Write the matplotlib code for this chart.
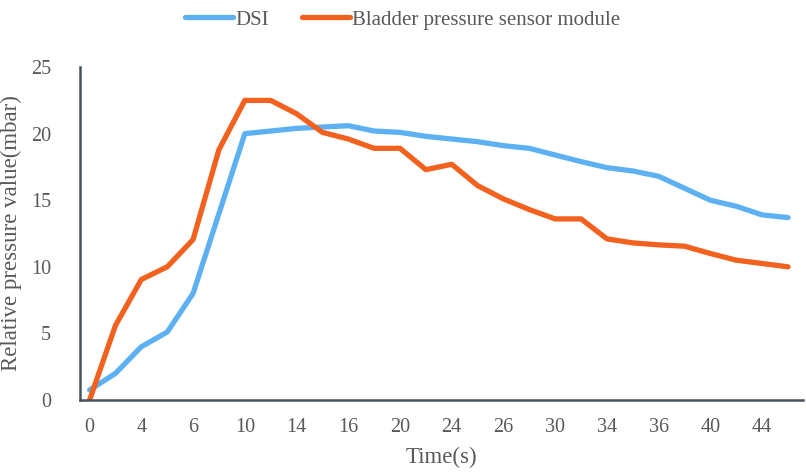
import matplotlib
matplotlib.use("Agg")
import matplotlib.pyplot as plt

time_labels = [0, 2, 4, 5, 6, 8, 10, 12, 14, 15, 16, 18, 20, 22, 24, 25, 26, 28,
               30, 32, 34, 35, 36, 38, 40, 42, 44, 45]
dsi = [0.75, 2.0, 4.0, 5.1, 8.0, 14.0, 20.0, 20.2, 20.4, 20.5, 20.6, 20.2, 20.1,
       19.8, 19.6, 19.4, 19.1, 18.9, 18.4, 17.9, 17.45, 17.2, 16.8, 15.9, 15.0,
       14.55, 13.9, 13.7]
bladder = [0.0, 5.6, 9.05, 10.0, 12.05, 18.8, 22.5, 22.5, 21.5, 20.1, 19.6, 18.9,
           18.9, 17.3, 17.7, 16.1, 15.1, 14.3, 13.6, 13.6, 12.1, 11.8, 11.65, 11.55,
           11.0, 10.5, 10.25, 10.0]

plt.rcParams['font.family'] = ['Liberation Serif', 'DejaVu Serif']
text_color = '#595959'

fig = plt.figure(figsize=(8.06, 4.76), dpi=100)
ax = fig.add_axes([0.0993, 0.1597, 0.897, 0.6993])

idx = list(range(len(time_labels)))
l1, = ax.plot(idx, dsi, color='#5DB1F2', lw=3.8, solid_capstyle='round',
              solid_joinstyle='round', label='DSI')
l2, = ax.plot(idx, bladder, color='#F2621E', lw=3.8, solid_capstyle='round',
              solid_joinstyle='round', label='Bladder pressure sensor module')

ax.set_xlim(-0.37, 27.58)
ax.set_ylim(0, 25)
ax.set_yticks([0, 5, 10, 15, 20, 25])
ax.set_xticks(idx[::2])
ax.set_xticklabels([str(t) for t in time_labels[::2]])
ax.tick_params(axis='both', length=0, labelsize=14.5, colors=text_color)
ax.tick_params(axis='y', pad=21)
ax.tick_params(axis='x', pad=13)

for s in ['top', 'right']:
    ax.spines[s].set_visible(False)
for s in ['left', 'bottom']:
    ax.spines[s].set_color('#46525A')
    ax.spines[s].set_linewidth(1.8)

ax.set_xlabel('Time(s)', fontsize=16.5, color=text_color, labelpad=7)
ax.set_ylabel('Relative pressure value(mbar)', fontsize=16.5, color=text_color, labelpad=6)

fig.legend(handles=[l1, l2], loc='center', bbox_to_anchor=(0.5, 0.958), ncol=2,
           frameon=False, fontsize=15, handlelength=2.3, columnspacing=1.6,
           handletextpad=0.1, labelcolor=text_color)

fig.savefig('out.png', dpi=100)
